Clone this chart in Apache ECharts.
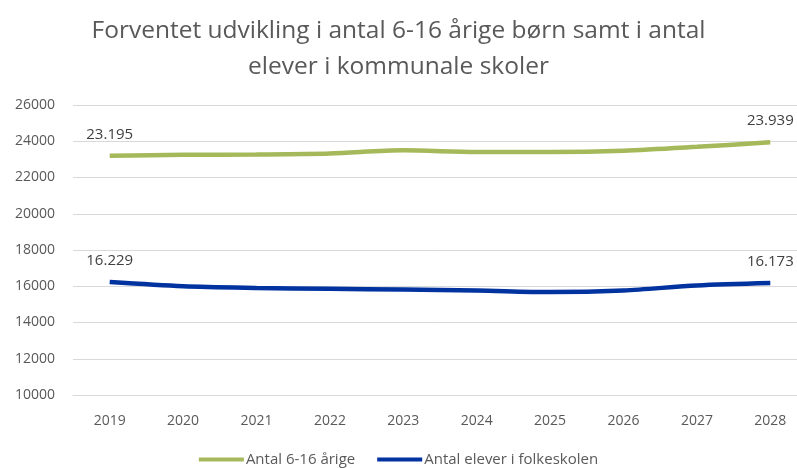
<!DOCTYPE html>
<html>
<head>
<meta charset="utf-8">
<script src="https://cdn.jsdelivr.net/npm/echarts@6/dist/echarts.min.js"></script>
<style>
  html, body { margin: 0; padding: 0; background: #fff; }
  #chart { width: 797px; height: 468px; }
</style>
</head>
<body>
<div id="chart"></div>
<script>
// data
let years = ['2019', '2020', '2021', '2022', '2023', '2024', '2025', '2026', '2027', '2028'];
let boern = [23195, 23250, 23270, 23325, 23500, 23410, 23410, 23480, 23690, 23939];
let elever = [16229, 16000, 15910, 15860, 15820, 15770, 15680, 15770, 16040, 16173];
let yTicks = [10000, 12000, 14000, 16000, 18000, 20000, 22000, 24000, 26000];

let font = '"Open Sans", "Noto Sans", sans-serif';

// only first and last point carry a label, danish thousand separator
function endLabel(p) {
    let last = years.length - 1;
    if (p.dataIndex !== 0 && p.dataIndex !== last) return '';
    return String(p.value).replace(/\B(?=(\d{3})+(?!\d))/g, '.');
}

let option = {
    title: {
        text: 'Forventet udvikling i antal 6-16 årige børn samt i antal\nelever i kommunale skoler',
        left: 'center',
        top: 8,
        textStyle: {
            fontFamily: font,
            fontSize: 24.5,
            fontWeight: 'normal',
            color: '#595959',
            lineHeight: 36
        }
    },
    legend: {
        bottom: -4,
        left: 'center',
        icon: 'rect',
        itemWidth: 45,
        itemHeight: 4,
        itemGap: 22,
        textStyle: { fontFamily: font, fontSize: 15, color: '#595959', padding: [0, 0, 0, -3] },
        data: ['Antal 6-16 årige', 'Antal elever i folkeskolen']
    },
    grid: {
        left: 73,
        right: -10,
        top: 105,
        bottom: 73,
        outerBoundsMode: 'none'
    },
    xAxis: {
        type: 'category',
        data: years,
        axisLine: { lineStyle: { color: '#d9d9d9' } },
        axisTick: { show: false },
        axisLabel: { fontFamily: font, fontSize: 14, color: '#595959', margin: 19 }
    },
    yAxis: {
        type: 'value',
        min: yTicks[0],
        max: yTicks[yTicks.length - 1],
        interval: 2000,
        splitLine: { lineStyle: { color: '#d9d9d9' } },
        axisLabel: {
            fontFamily: font, fontSize: 14, color: '#595959', margin: 18,
            formatter: function (v) { return String(v); }
        }
    },
    series: [
        {
            name: 'Antal 6-16 årige',
            type: 'line',
            data: boern,
            smooth: 0.3,
            symbol: 'circle',
            symbolSize: 0,
            lineStyle: { width: 4.5, color: '#a5b95b' },
            itemStyle: { color: '#a5b95b' },
            label: {
                show: true,
                position: 'top',
                distance: 14,
                formatter: endLabel,
                fontFamily: font,
                fontSize: 15,
                color: '#404040'
            }
        },
        {
            name: 'Antal elever i folkeskolen',
            type: 'line',
            data: elever,
            smooth: 0.3,
            symbol: 'circle',
            symbolSize: 0,
            lineStyle: { width: 4.5, color: '#0033a0' },
            itemStyle: { color: '#0033a0' },
            label: {
                show: true,
                position: 'top',
                distance: 14,
                formatter: endLabel,
                fontFamily: font,
                fontSize: 15,
                color: '#404040'
            }
        }
    ]
};
echarts.init(document.getElementById('chart')).setOption(option);
</script>
</body>
</html>
